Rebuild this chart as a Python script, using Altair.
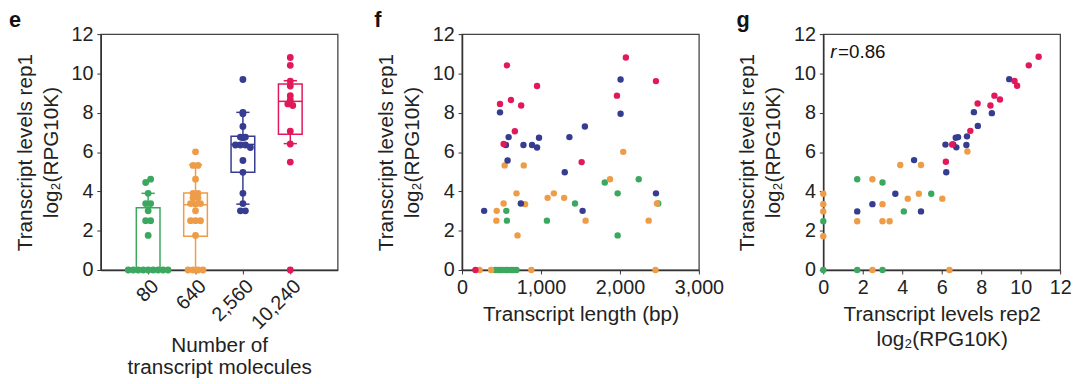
import altair as alt
import pandas as pd

FONT = "Liberation Sans"
GROUPS = ["80", "640", "2,560", "10,240"]
COLORS = ["#3ca85f", "#ee9c47", "#363c90", "#e2185a"]

# ---- rep1 levels and transcript length (panels e and f) ----
green_len = [561, 569, 1075, 1431, 1808, 1971, 1971, 2238, 2485,
             420, 450, 480, 510, 550, 580, 620, 650, 690]
green_rep1 = [3.01, 2.51, 2.51, 3.38, 4.45, 3.90, 1.76, 4.62, 3.38,
              0, 0, 0, 0, 0, 0, 0, 0, 0]
orange_len = [540, 782, 690, 527, 799, 439, 435, 703, 1084, 1163, 1293,
              1565, 1874, 2042, 2364, 2469, 222, 368, 878, 2450]
orange_rep1 = [5.32, 5.32, 3.90, 3.38, 3.35, 3.01, 2.51, 1.76, 3.67, 3.90, 3.67,
               2.51, 4.62, 6.01, 2.51, 3.38, 0, 0, 0, 0]
blue_len = [481, 590, 556, 577, 778, 887, 950, 975, 1360, 1556, 1301,
            1527, 745, 280, 2008, 2008, 2456]
blue_rep1 = [8.02, 6.76, 6.36, 5.57, 6.36, 6.36, 6.23, 6.73, 6.76, 7.30, 4.97,
             3.01, 3.38, 3.01, 9.69, 7.95, 3.90]
red_len = [569, 481, 619, 749, 950, 669, 527, 1515, 1962, 2075, 2456, 170]
red_rep1 = [10.41, 8.45, 8.65, 8.37, 9.36, 7.06, 6.41, 5.49, 8.87, 10.81, 9.61, 0]

# ---- box plot summary ----
box_q1 = [0.0, 1.72, 4.97, 6.91]
box_med = [0.0, 3.32, 6.39, 8.58]
box_q3 = [3.17, 3.92, 6.80, 9.46]
box_lo = [0.0, 0.0, 3.35, 6.43]
box_hi = [3.90, 5.36, 8.02, 9.63]

# ---- rep2 vs rep1 (panel g) ----
green_rep2 = [1.72, 3.00, 5.47, 4.08, 0, 0, 1.72, 3.00]
green_rep1g = [4.62, 4.45, 3.88, 2.98, 2.48, 0, 0, 0]
orange_rep2 = [7.30, 3.90, 4.95, 2.49, 4.84, 4.28, 6.03, 3.00, 1.72, 3.00, 3.36,
               0, 0, 0, 0, 2.49, 6.39]
orange_rep1g = [6.03, 5.34, 5.34, 4.62, 3.88, 3.63, 3.63, 3.35, 2.48, 2.48, 2.48,
                3.88, 3.35, 2.98, 1.72, 0, 0]
blue_rep2 = [9.42, 7.63, 8.54, 7.83, 7.28, 6.83, 6.71, 7.25, 6.19, 6.58, 6.74,
             6.23, 4.60, 3.65, 2.49, 1.72, 4.95]
blue_rep1g = [9.71, 8.03, 7.98, 7.33, 6.80, 6.76, 6.73, 6.36, 6.38, 6.39, 6.24,
              4.97, 5.59, 3.88, 3.35, 2.98, 2.98]
red_rep2 = [10.91, 10.41, 9.69, 9.82, 8.95, 8.67, 8.47, 7.82, 7.45, 6.53, 6.21]
red_rep1g = [10.85, 10.41, 9.62, 9.37, 8.67, 8.87, 8.37, 8.47, 7.08, 6.39, 5.51]

R_TEXT = "=0.86"

# ---------------- build tables ----------------
def dodge(vals, step):
    out = [0.0] * len(vals)
    bins = {}
    for i, v in enumerate(vals):
        bins.setdefault(round(v / 0.3), []).append(i)
    for members in bins.values():
        n = len(members)
        for k, i in enumerate(members):
            out[i] = (k - (n - 1) / 2) * step
    return out

rep1_sets = [(green_len, green_rep1), (orange_len, orange_rep1),
             (blue_len, blue_rep1), (red_len, red_rep1)]
rows = []
for gi, (lens, vals) in enumerate(rep1_sets):
    dx = dodge(vals, 0.105)
    for L, v, d in zip(lens, vals, dx):
        rows.append({"group": GROUPS[gi], "idx": gi, "xpos": gi + d, "len": L, "rep1": v})
pts = pd.DataFrame(rows)

stats = pd.DataFrame({"group": GROUPS, "idx": list(range(4)), "q1": box_q1,
                      "med": box_med, "q3": box_q3, "lo": box_lo, "hi": box_hi})

g_sets = [(green_rep2, green_rep1g), (orange_rep2, orange_rep1g),
          (blue_rep2, blue_rep1g), (red_rep2, red_rep1g)]
grows = []
for gi, (xs, ys) in enumerate(g_sets):
    for a, b in zip(xs, ys):
        grows.append({"group": GROUPS[gi], "rep2": a, "rep1": b})
gpts = pd.DataFrame(grows)

color = alt.Color("group:N", scale=alt.Scale(domain=GROUPS, range=COLORS), legend=None)
stroke = alt.Stroke("group:N", scale=alt.Scale(domain=GROUPS, range=COLORS), legend=None)

YTITLE = ["Transcript levels rep1", "log\u2082(RPG10K)"]
W, H = 240, 239

def ey(field):
    return alt.Y(field, type="quantitative",
                 scale=alt.Scale(domain=[0, 12], nice=False, zero=False),
                 axis=alt.Axis(values=list(range(0, 13, 2)), title=YTITLE,
                               titlePadding=10, titleLineHeight=26))

# ---------------- panel e ----------------
label_expr = "[" + ",".join("'%s'" % g for g in GROUPS) + "][datum.value]"
e_axis = alt.Axis(values=[0, 1, 2, 3], labelExpr=label_expr, labelAngle=-45,
                  labelAlign="right", labelBaseline="top", labelPadding=2,
                  labelOverlap=False, labelBound=False,
                  title=["Number of", "transcript molecules"], titlePadding=2,
                  titleLineHeight=22)

def ex(field):
    return alt.X(field, type="quantitative",
                 scale=alt.Scale(domain=[-1, 4], nice=False, zero=False), axis=e_axis)

whisk = alt.Chart(stats).mark_rule(strokeWidth=1.5).encode(
    x=ex("idx"), y=ey("lo"), y2="hi", color=color)
box = alt.Chart(stats).transform_calculate(
    xl="datum.idx - 0.25", xr="datum.idx + 0.25").mark_rect(
    fill="white", strokeWidth=1.5).encode(
    x=ex("xl"), x2="xr", y=ey("q1"), y2="q3", stroke=stroke)
med = alt.Chart(stats).transform_calculate(
    xl="datum.idx - 0.25", xr="datum.idx + 0.25").mark_rule(strokeWidth=1.5).encode(
    x=ex("xl"), x2="xr", y=ey("med"), color=color)
caps = alt.Chart(stats).transform_fold(["lo", "hi"], as_=["k", "v"]).transform_calculate(
    xl="datum.idx - 0.14", xr="datum.idx + 0.14").mark_rule(strokeWidth=1.5).encode(
    x=ex("xl"), x2="xr", y=ey("v"), color=color)
epts = alt.Chart(pts).mark_circle(size=48, opacity=1).encode(
    x=ex("xpos"), y=ey("rep1"), color=color)
elab = alt.Chart(pd.DataFrame({"t": ["e"]})).mark_text(
    font=FONT, fontSize=22, fontWeight="bold", align="left", baseline="alphabetic",
    color="#111").encode(x=alt.value(-93), y=alt.value(-7), text="t:N")
panel_e = alt.layer(whisk, box, med, caps, epts, elab).properties(width=W, height=H)

# ---------------- panel f ----------------
fpts = alt.Chart(pts).mark_circle(size=42, opacity=1).encode(
    x=alt.X("len:Q", scale=alt.Scale(domain=[0, 3000], nice=False),
            axis=alt.Axis(values=[0, 1000, 2000, 3000], format=",d",
                          title="Transcript length (bp)", titlePadding=6)),
    y=ey("rep1"), color=color)
flab = alt.Chart(pd.DataFrame({"t": ["f"]})).mark_text(
    font=FONT, fontSize=22, fontWeight="bold", align="left", baseline="alphabetic",
    color="#111").encode(x=alt.value(-89), y=alt.value(-7), text="t:N")
panel_f = alt.layer(fpts, flab).properties(width=W, height=H)

# ---------------- panel g ----------------
g_pts = alt.Chart(gpts).mark_circle(size=42, opacity=1).encode(
    x=alt.X("rep2:Q", scale=alt.Scale(domain=[0, 12], nice=False),
            axis=alt.Axis(values=list(range(0, 13, 2)),
                          title=["Transcript levels rep2", "log\u2082(RPG10K)"],
                          titlePadding=6, titleLineHeight=25)),
    y=ey("rep1"), color=color)
glab = alt.Chart(pd.DataFrame({"t": ["g"]})).mark_text(
    font=FONT, fontSize=22, fontWeight="bold", align="left", baseline="alphabetic",
    color="#111").encode(x=alt.value(-88), y=alt.value(-7), text="t:N")
r1 = alt.Chart(pd.DataFrame({"t": ["r"]})).mark_text(
    font=FONT, fontSize=19, fontStyle="italic", align="left", baseline="alphabetic",
    color="#111").encode(x=alt.value(7), y=alt.value(24), text="t:N")
r2 = alt.Chart(pd.DataFrame({"t": [R_TEXT]})).mark_text(
    font=FONT, fontSize=19, align="left", baseline="alphabetic",
    color="#111").encode(x=alt.value(15), y=alt.value(24), text="t:N")
panel_g = alt.layer(g_pts, glab, r1, r2).properties(width=W, height=H)

chart = alt.hconcat(panel_e, panel_f, panel_g, spacing=126, bounds="flush").properties(
    padding={"left": 0, "top": -2, "right": 0, "bottom": 0}
).configure_view(stroke="#444", strokeWidth=1.3).configure_axis(
    grid=False, domainColor="#333", domainWidth=1.5, tickColor="#333", tickSize=4,
    labelFont=FONT, titleFont=FONT, labelFontSize=20, titleFontSize=21,
    labelColor="#222", titleColor="#222", titleFontWeight="normal", labelPadding=4,
    labelFlush=False
).configure_text(font=FONT)

chart.save("out.html", embed_options={"renderer": "svg", "actions": False})
